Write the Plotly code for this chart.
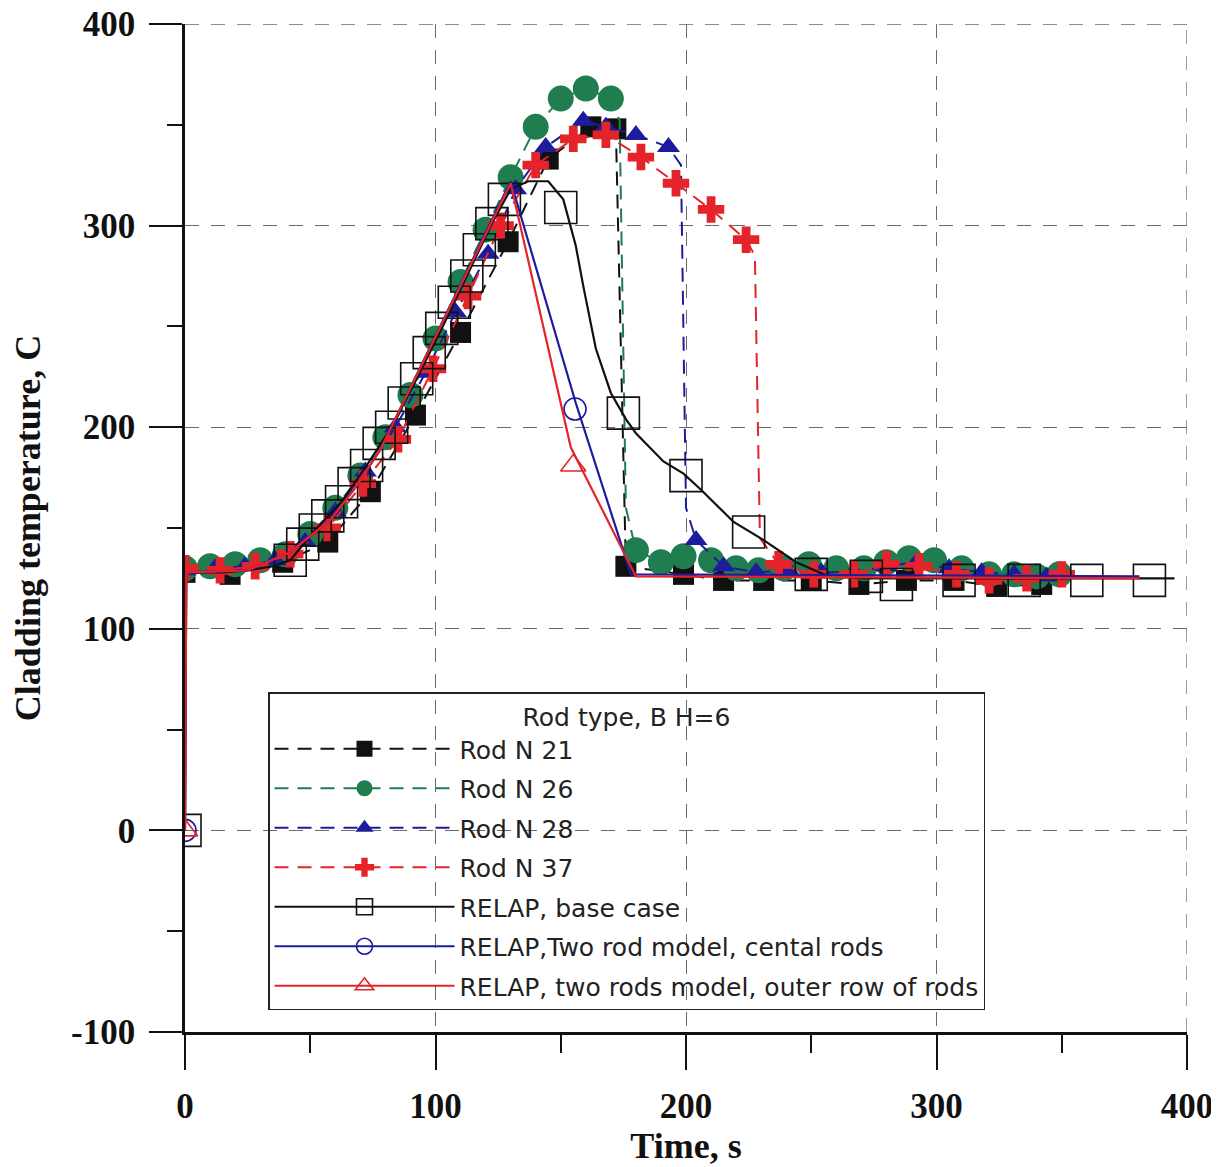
import plotly.graph_objects as go

# ---------------- data ----------------
ROD21_T = [0, 18, 39, 57, 74, 92, 110, 129, 145, 162, 172, 176, 199, 215, 231, 250, 269, 288, 307, 324, 342]
ROD21_Y = [128, 127, 133, 143, 168, 206, 247, 292, 333, 349, 348, 131, 127, 124, 124, 124, 122, 124, 124, 121, 122]
ROD21_KNOT_T = []
ROD21_KNOT_Y = []

ROD26_T = [0, 10, 20, 30, 40, 50, 60, 70, 80, 90, 100, 110, 120, 130, 140, 150, 160, 170,
           180, 190, 199, 210, 220, 229, 239, 249, 260, 271, 280, 289, 299, 310, 321, 331, 340, 349]
ROD26_Y = [130, 131, 132, 134, 137, 147, 160, 176, 195, 216, 244, 272, 298, 324, 349, 363, 368, 363,
           139, 133, 136, 134, 130, 129, 130, 132, 130, 130, 133, 135, 134, 130, 127, 127, 126, 127]
ROD26_KNOT_T = [173.5, 176]
ROD26_KNOT_Y = [352, 160]

ROD28_T = [0, 12, 24, 36, 48, 60, 72, 84, 96, 108, 121, 132, 144, 159, 168, 180, 193,
           204, 215, 228, 241, 254, 267, 280, 292, 305, 318, 331, 344]
ROD28_Y = [129, 130, 131, 134, 143, 158, 178, 200, 227, 257, 286, 318, 339, 352, 349, 345, 339,
           144, 131, 128, 129, 128, 128, 131, 133, 130, 128, 127, 126]
ROD28_KNOT_T = [198, 200]
ROD28_KNOT_Y = [330, 160]

ROD37_T = [0, 14, 28, 42, 57, 71, 85, 99, 113, 126, 140, 155, 168, 182, 196, 210, 224,
           237, 251, 267, 280, 293, 308, 321, 336, 350]
ROD37_Y = [130, 129, 131, 137, 150, 172, 194, 229, 265, 300, 330, 343, 345, 334, 321, 308, 293,
           132, 127, 127, 132, 131, 127, 124, 125, 127]
ROD37_KNOT_T = [227.5, 229.5]
ROD37_KNOT_Y = [285, 145]

BASE_T = [0, 0.5, 15, 25, 35, 42, 52, 62.5, 72.5, 82.5, 92.5, 102.5, 112.5, 122.5, 130, 137, 145,
          151, 156, 159, 164, 170, 176, 180, 191, 199, 206, 219, 231, 244, 255, 270, 395]
BASE_Y = [0, 128, 128, 129, 131, 134, 149, 163, 181, 200, 224, 249, 275, 301, 318, 322, 322,
          313, 290, 270, 239, 217, 204, 197, 183, 177, 169, 153, 144, 133, 127, 125, 125]
BASE_MARK_T = [0, 42, 47, 52, 57, 62.5, 67.5, 72.5, 77.5, 82.5, 87.5, 92.5, 97.5, 102.5, 107.5,
               112.5, 117.5, 122.5, 127.5, 150, 175, 200, 225, 250, 272, 284, 309, 335, 360, 385]
BASE_MARK_Y = [0, 134, 142, 149, 156, 163, 172, 181, 192, 200, 212, 224, 237, 249, 262,
               275, 288, 301, 313, 309, 207, 176, 148, 127, 126, 122, 124, 124, 124, 124]

CENT_T = [0, 0.5, 25, 42, 58, 68, 78, 130, 156, 178, 381]
CENT_Y = [0, 128, 129, 138, 154, 170, 189, 322, 212, 127, 126]
CENT_MARK_T = [0, 155.7]
CENT_MARK_Y = [0, 209]

OUTER_T = [0, 0.5, 25, 42, 58, 68, 78, 130, 154, 180, 381]
OUTER_Y = [0, 128, 129, 138, 154, 170, 189, 321, 190, 126, 125]
OUTER_MARK_T = [0, 155]
OUTER_MARK_Y = [0, 181]

NAMES = ["Rod N 21", "Rod N 26", "Rod N 28", "Rod N 37",
         "RELAP, base case", "RELAP,Two rod model, cental rods",
         "RELAP, two rods model, outer row of rods"]
LEGEND_TITLE = "Rod type, B H=6"
X_TICKS = [0, 100, 200, 300, 400]
X_TICK_TEXT = ["0", "100", "200", "300", "400"]
Y_TICKS = [-100, 0, 100, 200, 300, 400]
Y_TICK_TEXT = ["-100", "0", "100", "200", "300", "400"]
X_MINOR = [50, 150, 250, 350]
Y_MINOR = [-50, 50, 150, 250, 350]

# ---------------- styles ----------------
BLACK = "#111111"
GREEN = "#1f7d4f"
BLUE = "#1c1c9c"
RED = "#e4242a"
DASH = "14px,9px"
GRID_COL = "#6a6a6a"
GRID_DASH = "14px,12px"

fig = go.Figure()


def merged(t, y, kt, ky):
    pts = sorted(list(zip(t, y)) + list(zip(kt, ky)))
    return [p[0] for p in pts], [p[1] for p in pts]


exp_series = [
    (ROD21_T, ROD21_Y, ROD21_KNOT_T, ROD21_KNOT_Y, BLACK, "square", 21),
    (ROD26_T, ROD26_Y, ROD26_KNOT_T, ROD26_KNOT_Y, GREEN, "circle", 26),
    (ROD28_T, ROD28_Y, ROD28_KNOT_T, ROD28_KNOT_Y, BLUE, "triangle-up", 20),
    (ROD37_T, ROD37_Y, ROD37_KNOT_T, ROD37_KNOT_Y, RED, "cross", 22),
]

for t, y, kt, ky, col, sym, sz in exp_series:
    lt, ly = merged(t, y, kt, ky)
    fig.add_trace(go.Scatter(x=lt, y=ly, mode="lines", showlegend=False, hoverinfo="skip",
                             line=dict(color=col, width=2, dash=DASH)))
    fig.add_trace(go.Scatter(x=t, y=y, mode="markers", showlegend=False,
                             marker=dict(color=col, symbol=sym, size=sz, line=dict(width=0))))

relap_series = [
    (BASE_T, BASE_Y, BASE_MARK_T, BASE_MARK_Y, BLACK, "square-open", 32),
    (CENT_T, CENT_Y, CENT_MARK_T, CENT_MARK_Y, BLUE, "circle-open", 22),
    (OUTER_T, OUTER_Y, OUTER_MARK_T, OUTER_MARK_Y, RED, "triangle-up-open", 22),
]
for t, y, mt, my, col, sym, sz in relap_series:
    fig.add_trace(go.Scatter(x=t, y=y, mode="lines", showlegend=False,
                             line=dict(color=col, width=2.2)))
    fig.add_trace(go.Scatter(x=mt, y=my, mode="markers", showlegend=False,
                             marker=dict(color=col, symbol=sym, size=sz, line=dict(width=1.6, color=col))))

# legend-only entries
leg_styles = [
    (BLACK, "square", 20, DASH, 0),
    (GREEN, "circle", 24, DASH, 0),
    (BLUE, "triangle-up", 20, DASH, 0),
    (RED, "cross", 22, DASH, 0),
    (BLACK, "square-open", 22, "solid", 1.6),
    (BLUE, "circle-open", 22, "solid", 1.6),
    (RED, "triangle-up-open", 22, "solid", 1.6),
]
for name, (col, sym, sz, dsh, lw) in zip(NAMES, leg_styles):
    fig.add_trace(go.Scatter(x=[None], y=[None], mode="lines+markers", name=name, legendgroup=name,
                             line=dict(color=col, width=2.2, dash=dsh),
                             marker=dict(color=col, symbol=sym, size=sz, line=dict(width=lw, color=col))))

# dashed grid lines at the far edges (top and right), like the reference
fig.add_hline(y=Y_TICKS[-1], line=dict(color=GRID_COL, width=1.3, dash=GRID_DASH))
fig.add_vline(x=X_TICKS[-1], line=dict(color=GRID_COL, width=1.3, dash=GRID_DASH))

tickfont = dict(family="Liberation Serif", size=35, color="#111", weight="bold")
titlefont = dict(family="Liberation Serif", size=36, color="#111", weight="bold")
grid = dict(showgrid=True, gridcolor=GRID_COL, gridwidth=1.3, griddash=GRID_DASH, zeroline=False)

# the page body adds an 8px offset; margins compensate so the plot area sits where the reference has it
PAGE_OFF = 8
L, R, T, B = 185 - PAGE_OFF, 32 + PAGE_OFF, 24 - PAGE_OFF, 135 + PAGE_OFF
PLOT_H = 1167 - T - B
legend_top_px = 692 - PAGE_OFF  # in figure pixels

fig.update_layout(
    width=1219, height=1167,
    margin=dict(l=L, r=R, t=T, b=B),
    paper_bgcolor="white", plot_bgcolor="white",
    xaxis=dict(range=[0, 400], tickvals=X_TICKS, ticktext=X_TICK_TEXT, ticks="outside", ticklen=35,
               tickwidth=2.2, tickcolor="#111", showline=True, linecolor="#111", linewidth=2.5,
               tickfont=tickfont, ticklabelstandoff=6, automargin=False, ticklabeloverflow="allow",
               minor=dict(tickvals=X_MINOR, ticks="outside", ticklen=18,
                          tickwidth=2, tickcolor="#111", showgrid=False),
               title=dict(text="Time, s", font=titlefont, standoff=4), **grid),
    yaxis=dict(range=[-100, 400], tickvals=Y_TICKS, ticktext=Y_TICK_TEXT, ticks="outside", ticklen=33,
               tickwidth=2.2, tickcolor="#111", showline=True, linecolor="#111", linewidth=2.5,
               tickfont=tickfont, ticklabelstandoff=7, automargin=False, ticklabeloverflow="allow",
               minor=dict(tickvals=Y_MINOR, ticks="outside", ticklen=15,
                          tickwidth=2, tickcolor="#111", showgrid=False),
               title=dict(text="Cladding temperature, C", font=titlefont, standoff=22), **grid),
    legend=dict(x=(268 - 185) / 1002, y=1 - (legend_top_px - T) / PLOT_H, xanchor="left", yanchor="top",
                bgcolor="rgba(0,0,0,0)", bordercolor="#222", borderwidth=1.5,
                font=dict(family="DejaVu Sans", size=25, color="#222"),
                title=dict(text=LEGEND_TITLE, side="top center",
                           font=dict(family="DejaVu Sans", size=25, color="#222")),
                itemwidth=180, tracegroupgap=4, itemsizing="trace"),
)

fig.write_html("out.html")
